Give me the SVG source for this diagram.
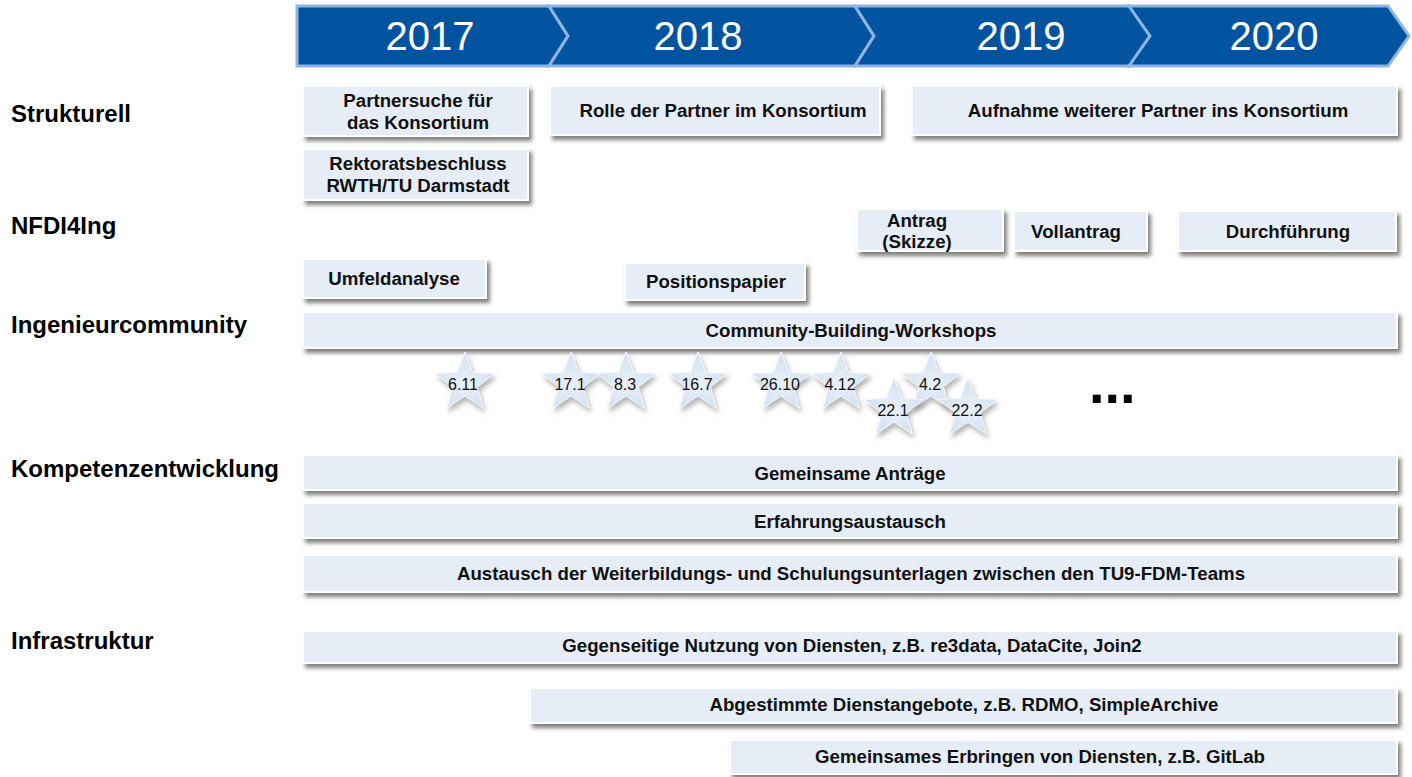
<svg xmlns="http://www.w3.org/2000/svg" xmlns:xlink="http://www.w3.org/1999/xlink" width="1412" height="777" viewBox="0 0 1412 777">
<defs>
<style>
.seg{fill:#00539F;stroke:#8EB4E3;stroke-width:3;stroke-linejoin:miter}
.yr{font-family:"Liberation Sans",Arial,sans-serif;font-size:40px;fill:#fff;text-anchor:middle}
.lbl{font-family:"Liberation Sans",Arial,sans-serif;font-size:24px;font-weight:bold;fill:#000}
.box{fill:#E6EDF7;stroke:#fff;stroke-width:2;filter:url(#sh)}
.bt{font-family:"Liberation Sans",Arial,sans-serif;font-size:18.67px;font-weight:bold;fill:#111;text-anchor:middle}
.star{fill:url(#sg);stroke:#F4F8FC;stroke-width:1;filter:url(#ssh)}
.st{font-family:"Liberation Sans",Arial,sans-serif;font-size:16px;fill:#111;text-anchor:middle}
</style>
<filter id="sh" x="-5%" y="-20%" width="112%" height="160%">
<feDropShadow dx="3" dy="4" stdDeviation="2" flood-color="#4a4a4a" flood-opacity="0.7"/>
</filter>
<filter id="ssh" x="-30%" y="-30%" width="160%" height="170%">
<feDropShadow dx="2" dy="4" stdDeviation="2.5" flood-color="#777" flood-opacity="0.55"/>
</filter>
<radialGradient id="sg" cx="0.5" cy="0.55" r="0.6">
<stop offset="0" stop-color="#EAF1F9"/>
<stop offset="1" stop-color="#CFDDEF"/>
</radialGradient>
<path id="star" d="M0,-31 L7.64,-10.52 L29.48,-9.58 L12.36,4.02 L18.22,25.08 L0,13 L-18.22,25.08 L-12.36,4.02 L-29.48,-9.58 L-7.64,-10.52 Z"/>
</defs>
<rect width="1412" height="777" fill="#fff"/>

<g id="timeline">
<path class="seg" d="M297,6 L549,6 L568,36 L549,66 L297,66 Z"/>
<path class="seg" d="M549,6 L855,6 L874,36 L855,66 L549,66 L568,36 Z"/>
<path class="seg" d="M855,6 L1129,6 L1150,36 L1129,66 L855,66 L874,36 Z"/>
<path class="seg" d="M1129,6 L1388,6 L1409,36 L1388,66 L1129,66 L1150,36 Z"/>
<text class="yr" x="430" y="50">2017</text>
<text class="yr" x="698" y="50">2018</text>
<text class="yr" x="1021" y="50">2019</text>
<text class="yr" x="1274" y="50">2020</text>
</g>

<g id="labels">
<text class="lbl" x="11" y="122">Strukturell</text>
<text class="lbl" x="11" y="234">NFDI4Ing</text>
<text class="lbl" x="11" y="333">Ingenieurcommunity</text>
<text class="lbl" x="11" y="477">Kompetenzentwicklung</text>
<text class="lbl" x="11" y="649">Infrastruktur</text>
</g>

<g id="partnersuche"><rect class="box" x="303" y="86" width="225" height="50"/>
<text class="bt" x="418" y="107">Partnersuche für</text><text class="bt" x="418" y="129">das Konsortium</text></g>
<g id="rektoratsbeschluss"><rect class="box" x="303" y="149" width="225" height="51"/>
<text class="bt" x="418" y="170">Rektoratsbeschluss</text><text class="bt" x="418" y="192">RWTH/TU Darmstadt</text></g>
<g id="rolle"><rect class="box" x="550" y="86" width="330" height="49"/>
<text class="bt" x="723" y="117">Rolle der Partner im Konsortium</text></g>
<g id="aufnahme"><rect class="box" x="912" y="86" width="485" height="49"/>
<text class="bt" x="1158" y="117">Aufnahme weiterer Partner ins Konsortium</text></g>

<g id="antrag"><rect class="box" x="857" y="209" width="146" height="42"/>
<text class="bt" x="917" y="227">Antrag</text><text class="bt" x="917" y="248">(Skizze)</text></g>
<g id="vollantrag"><rect class="box" x="1014" y="211" width="133" height="40"/>
<text class="bt" x="1076" y="238">Vollantrag</text></g>
<g id="durchfuehrung"><rect class="box" x="1178" y="211" width="218" height="40"/>
<text class="bt" x="1288" y="238">Durchführung</text></g>

<g id="umfeldanalyse"><rect class="box" x="303" y="259" width="183" height="39"/>
<text class="bt" x="394" y="285">Umfeldanalyse</text></g>
<g id="positionspapier"><rect class="box" x="625" y="263" width="180" height="37"/>
<text class="bt" x="716" y="288">Positionspapier</text></g>
<g id="workshops"><rect class="box" x="303" y="312" width="1094" height="36"/>
<text class="bt" x="851" y="337">Community-Building-Workshops</text></g>

<g id="stars">
<g id="s611"><use href="#star" class="star" x="465" y="383"/><text class="st" x="463" y="390">6.11</text></g>
<g id="s171"><use href="#star" class="star" x="571" y="383"/><text class="st" x="570" y="390">17.1</text></g>
<g id="s83"><use href="#star" class="star" x="626" y="383"/><text class="st" x="625" y="390">8.3</text></g>
<g id="s167"><use href="#star" class="star" x="698" y="383"/><text class="st" x="697" y="390">16.7</text></g>
<g id="s2610"><use href="#star" class="star" x="781" y="383"/><text class="st" x="780" y="390">26.10</text></g>
<g id="s412"><use href="#star" class="star" x="841" y="383"/><text class="st" x="840" y="390">4.12</text></g>
<g id="s42"><use href="#star" class="star" x="931" y="383"/><text class="st" x="930" y="390">4.2</text></g>
<g id="s221"><use href="#star" class="star" x="894" y="409"/><text class="st" x="893" y="416">22.1</text></g>
<g id="s222"><use href="#star" class="star" x="968" y="409"/><text class="st" x="967" y="416">22.2</text></g>
<text x="1089" y="403" font-family="Liberation Sans, Arial, sans-serif" font-size="56" font-weight="bold" fill="#000">...</text>
</g>

<g id="antraege"><rect class="box" x="303" y="455" width="1094" height="35"/>
<text class="bt" x="850" y="480">Gemeinsame Anträge</text></g>
<g id="erfahrung"><rect class="box" x="303" y="503" width="1094" height="35"/>
<text class="bt" x="850" y="528">Erfahrungsaustausch</text></g>
<g id="austausch"><rect class="box" x="303" y="555" width="1094" height="37"/>
<text class="bt" x="851" y="580">Austausch der Weiterbildungs- und Schulungsunterlagen zwischen den TU9-FDM-Teams</text></g>

<g id="gegenseitig"><rect class="box" x="303" y="631" width="1094" height="32"/>
<text class="bt" x="852" y="652">Gegenseitige Nutzung von Diensten, z.B. re3data, DataCite, Join2</text></g>
<g id="abgestimmt"><rect class="box" x="530" y="688" width="867" height="35"/>
<text class="bt" x="964" y="711">Abgestimmte Dienstangebote, z.B. RDMO, SimpleArchive</text></g>
<g id="erbringen"><rect class="box" x="730" y="740" width="667" height="34"/>
<text class="bt" x="1040" y="763">Gemeinsames Erbringen von Diensten, z.B. GitLab</text></g>
</svg>
